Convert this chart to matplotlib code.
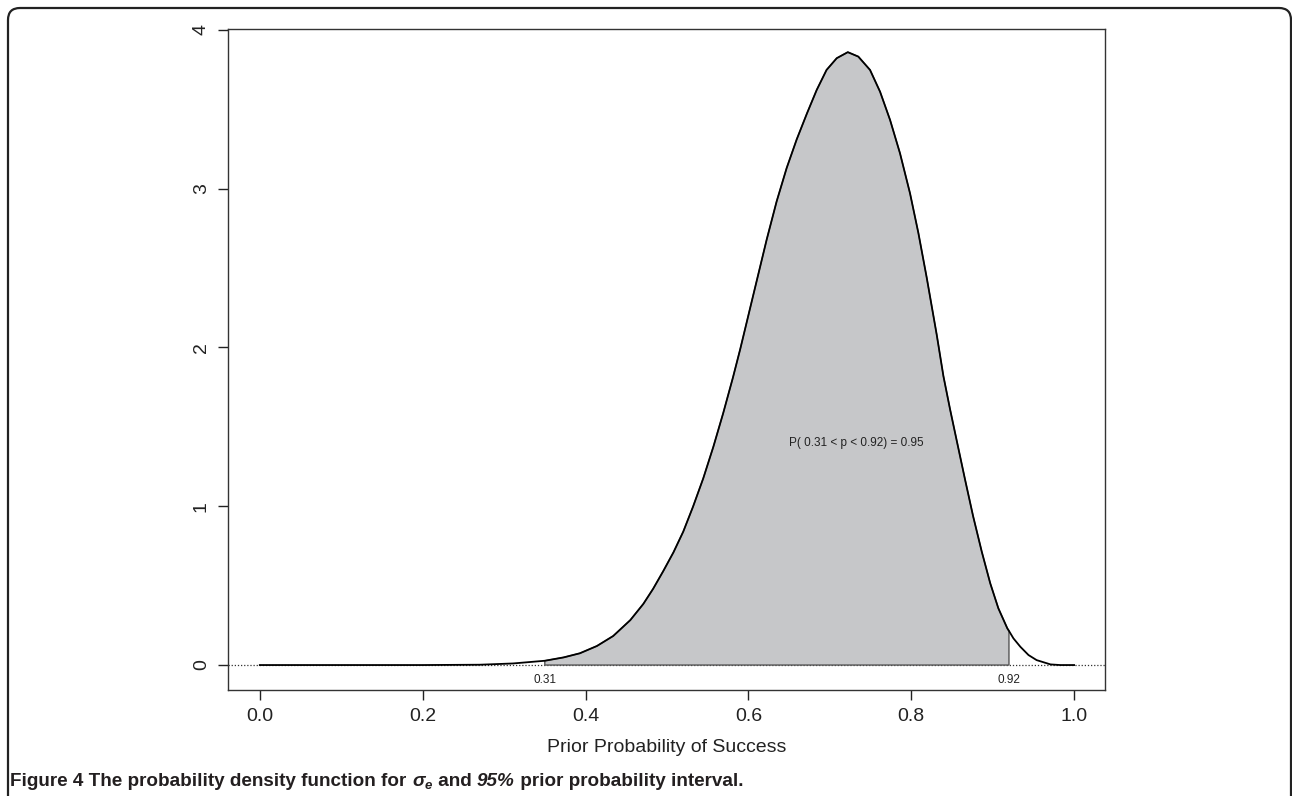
import numpy as np
import matplotlib
matplotlib.use("Agg")
import matplotlib.pyplot as plt
from matplotlib import font_manager
from matplotlib.patches import FancyBboxPatch

# density curve
p_grid = [0.00, 0.10, 0.20, 0.27, 0.311, 0.35, 0.373, 0.393, 0.414, 0.434,
          0.455, 0.471, 0.483, 0.4955, 0.508, 0.520, 0.532, 0.5446, 0.557, 0.569,
          0.581, 0.590, 0.606, 0.6225, 0.6347, 0.647, 0.6593, 0.672, 0.6839, 0.696,
          0.7085, 0.7221, 0.735, 0.7494, 0.7617, 0.774, 0.7862, 0.7985, 0.8088, 0.819,
          0.8313, 0.8395, 0.8477, 0.856, 0.866, 0.876, 0.8866, 0.897, 0.907, 0.918,
          0.92, 0.9255, 0.934, 0.944, 0.954, 0.971, 0.983, 1.0]
density = [0, 0, 0, 0.002, 0.010, 0.027, 0.048, 0.074, 0.120, 0.183,
           0.283, 0.385, 0.480, 0.592, 0.710, 0.840, 0.997, 1.176, 1.375, 1.585,
           1.81, 1.99, 2.33, 2.68, 2.92, 3.13, 3.31, 3.475, 3.622, 3.748,
           3.822, 3.86, 3.832, 3.748, 3.611, 3.433, 3.223, 2.971, 2.72, 2.44,
           2.08, 1.82, 1.61, 1.41, 1.17, 0.937, 0.714, 0.515, 0.357, 0.231,
           0.215, 0.168, 0.115, 0.063, 0.031, 0.004, 0, 0]

# shaded interval (as drawn) and its labels
shade_lo, shade_hi = 0.35, 0.92
lo_label, hi_label = "0.31", "0.92"
interval_text = "P( 0.31 < p < 0.92) = 0.95"

x_ticks = [0.0, 0.2, 0.4, 0.6, 0.8, 1.0]
x_ticklabels = ["0.0", "0.2", "0.4", "0.6", "0.8", "1.0"]
y_ticks = [0, 1, 2, 3, 4]
y_ticklabels = ["0", "1", "2", "3", "4"]

names = {f.name for f in font_manager.fontManager.ttflist}
base = "Liberation Sans Narrow" if "Liberation Sans Narrow" in names else "Liberation Sans"
plt.rcParams['font.family'] = [base, 'DejaVu Sans']
plt.rcParams['mathtext.fontset'] = 'custom'
plt.rcParams['mathtext.rm'] = base + ':bold'
plt.rcParams['mathtext.it'] = base + ':italic:bold'
plt.rcParams['mathtext.bf'] = base + ':bold'

fig = plt.figure(figsize=(12.92, 7.96), dpi=100)
ax = fig.add_axes([0.1765, 0.1332, 0.8553 - 0.1765, 0.9636 - 0.1332])

x = np.array(p_grid)
y = np.array(density)
m = (x >= shade_lo) & (x <= shade_hi)
xs = np.concatenate([[shade_lo], x[m], [shade_hi]])
ys = np.concatenate([[0], y[m], [0]])
ax.fill(xs, ys, facecolor='#c6c7c9', edgecolor='#555555', lw=1.0, zorder=2)
ax.plot(x, y, color='black', lw=1.3, zorder=3, solid_joinstyle='round')
ax.axhline(0, color='#333333', lw=0.9, ls=(0, (1, 1.5)), zorder=1)

ax.text(0.733, 1.40, interval_text, fontsize=8.5, ha='center', va='center', color='#222222')
ax.text(shade_lo, -0.095, lo_label, fontsize=8.5, ha='center', va='center', color='#222222')
ax.text(shade_hi, -0.095, hi_label, fontsize=8.5, ha='center', va='center', color='#222222')

ax.set_xlim(-0.039, 1.038)
ax.set_ylim(-0.157, 4.006)
ax.set_xticks(x_ticks)
ax.set_xticklabels(x_ticklabels, fontsize=14)
ax.set_yticks(y_ticks)
ax.set_yticklabels(y_ticklabels, fontsize=14, rotation=90, va='center')
ax.tick_params(direction='out', length=7, width=1, colors='#222222', pad=6)
for s in ax.spines.values():
    s.set_color('#333333')
    s.set_linewidth(1.0)
ax.set_xlabel("Prior Probability of Success", fontsize=14, color='#222222', labelpad=10)

# caption, drawn piece by piece so the italic parts can differ
caption = [("Figure 4 The probability density function for ", 'normal'),
           (r"$\sigma_e$", 'italic'),
           (" and ", 'normal'),
           ("95%", 'italic'),
           (" prior probability interval.", 'normal')]
renderer = fig.canvas.get_renderer()
cx = 10
for txt, style in caption:
    t = fig.text(cx / 1292, 0.0125, txt, fontsize=13.6, fontweight='bold', fontstyle=style,
                 color='#231f20', ha='left', va='baseline')
    bb = t.get_window_extent(renderer)
    cx = bb.x1

frame = FancyBboxPatch((0.08, -0.3), 12.83, 7.88 + 0.3, boxstyle="round,pad=0,rounding_size=0.12",
                       transform=fig.dpi_scale_trans, fill=False, edgecolor='#222222', lw=1.6)
fig.patches.append(frame)

fig.savefig("out.png", dpi=100)
